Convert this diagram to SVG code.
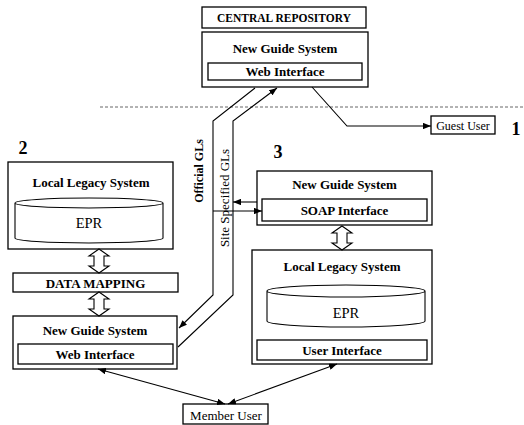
<svg xmlns="http://www.w3.org/2000/svg" xmlns:xlink="http://www.w3.org/1999/xlink" width="524" height="425" viewBox="0 0 524 425">
  <style>
    .box { fill: #fff; stroke: #000; stroke-width: 1.3; }
    .cyl { fill: #fff; stroke: #000; stroke-width: 1.1; }
    .lbl { font-family: "Liberation Serif", "Times New Roman", serif; font-weight: bold; font-size: 13px; text-anchor: middle; fill: #000; }
    .reg { font-family: "Liberation Serif", "Times New Roman", serif; font-size: 13px; text-anchor: middle; fill: #000; }
    .num { font-family: "Liberation Serif", "Times New Roman", serif; font-weight: bold; font-size: 18px; text-anchor: middle; fill: #000; }
    .wire { fill: none; stroke: #000; stroke-width: 1.1; }
    .fat { fill: #fff; stroke: #000; stroke-width: 1.1; }
  </style>
  <defs>
    <marker id="tip" viewBox="0 0 10 8" refX="10" refY="4" markerWidth="8" markerHeight="6.4" markerUnits="userSpaceOnUse" orient="auto-start-reverse">
      <path d="M0,0 L10,4 L0,8 Z" fill="#000"/>
    </marker>
    <!-- hollow two-way arrow, 24 long, pointing along +y -->
    <path id="dbl" class="fat" d="M0,0 L10,7 L5,7 L5,17 L10,17 L0,24 L-10,17 L-5,17 L-5,7 L-10,7 Z"/>
  </defs>

  <rect width="524" height="425" fill="#fff"/>

  <!-- site boundary -->
  <line x1="100" y1="107" x2="524" y2="107" stroke="#555" stroke-width="0.9" stroke-dasharray="3 2"/>

  <!-- section numbers -->
  <text class="num" x="516" y="135">1</text>
  <text class="num" x="23" y="154">2</text>
  <text class="num" x="278" y="158">3</text>

  <g id="central-repository">
    <rect class="box" x="202" y="7" width="164" height="21"/>
    <text class="lbl" x="284" y="22" style="font-size:11.5px">CENTRAL REPOSITORY</text>
  </g>

  <g id="central-guide">
    <rect class="box" x="202" y="32" width="166" height="55"/>
    <text class="lbl" x="285" y="53">New Guide System</text>
    <rect class="box" x="208" y="63" width="154" height="17"/>
    <text class="lbl" x="285" y="76">Web Interface</text>
  </g>

  <g id="guest-user">
    <rect class="box" x="431" y="116" width="64" height="18"/>
    <text class="reg" x="463" y="130" style="font-size:12px">Guest User</text>
  </g>

  <g id="legacy-2">
    <rect class="box" x="8" y="162" width="165" height="87"/>
    <text class="lbl" x="91" y="187">Local Legacy System</text>
    <path class="cyl" d="M15,203 L15,238 A74,5 0 0 0 163,238 L163,203 A74,5 0 0 0 15,203 Z M15,203 A74,5 0 0 0 163,203"/>
    <text class="reg" x="89" y="228" style="font-size:14.5px">EPR</text>
  </g>

  <g id="data-mapping">
    <rect class="box" x="13" y="273" width="165" height="19"/>
    <text class="lbl" x="95.5" y="288">DATA MAPPING</text>
  </g>

  <g id="guide-2">
    <rect class="box" x="13" y="316" width="164" height="53"/>
    <text class="lbl" x="95" y="335">New Guide System</text>
    <rect class="box" x="18" y="344" width="155" height="20"/>
    <text class="lbl" x="95" y="359">Web Interface</text>
  </g>

  <g id="guide-3">
    <rect class="box" x="257" y="171" width="175" height="54"/>
    <text class="lbl" x="344.5" y="189">New Guide System</text>
    <rect class="box" x="262" y="199" width="165" height="22"/>
    <text class="lbl" x="344.5" y="215">SOAP Interface</text>
  </g>

  <g id="legacy-3">
    <rect class="box" x="252" y="250" width="180" height="114"/>
    <text class="lbl" x="342" y="271">Local Legacy System</text>
    <path class="cyl" d="M267,291 L267,321 A79,6 0 0 0 425,321 L425,291 A79,6 0 0 0 267,291 Z M267,291 A79,6 0 0 0 425,291"/>
    <text class="reg" x="346" y="318" style="font-size:14.5px">EPR</text>
    <rect class="box" x="257" y="340" width="170" height="20"/>
    <text class="lbl" x="342" y="355">User Interface</text>
  </g>

  <g id="member-user">
    <rect class="box" x="183" y="404" width="85" height="20"/>
    <text class="reg" x="226" y="420">Member User</text>
  </g>

  <g id="connectors">
    <!-- hollow two-way links -->
    <use xlink:href="#dbl" x="99" y="249"/>
    <use xlink:href="#dbl" x="99" y="292"/>
    <use xlink:href="#dbl" x="342" y="226"/>

    <!-- official guidelines: central -> site 2 -->
    <polyline class="wire" points="255,88 213,121 213,295 179,328" marker-end="url(#tip)"/>
    <!-- site specified guidelines: site 2 -> central -->
    <polyline class="wire" points="178,347 233,295 233,121 277,88" marker-end="url(#tip)"/>
    <text class="lbl" transform="translate(203,171) rotate(-90)" style="font-size:12px">Official GLs</text>
    <text class="reg" transform="translate(229,198) rotate(-90)">Site Specified GLs</text>

    <!-- site 3 exchange -->
    <line class="wire" x1="257" y1="202" x2="233" y2="202" marker-end="url(#tip)"/>
    <line class="wire" x1="213" y1="211" x2="262" y2="211" marker-end="url(#tip)"/>

    <!-- guest access -->
    <polyline class="wire" points="312,87 347,126 431,126" marker-end="url(#tip)"/>

    <!-- member access -->
    <line class="wire" x1="98" y1="369" x2="225" y2="404" marker-start="url(#tip)" marker-end="url(#tip)"/>
    <line class="wire" x1="228" y1="404" x2="337" y2="364" marker-start="url(#tip)" marker-end="url(#tip)"/>
  </g>
</svg>
